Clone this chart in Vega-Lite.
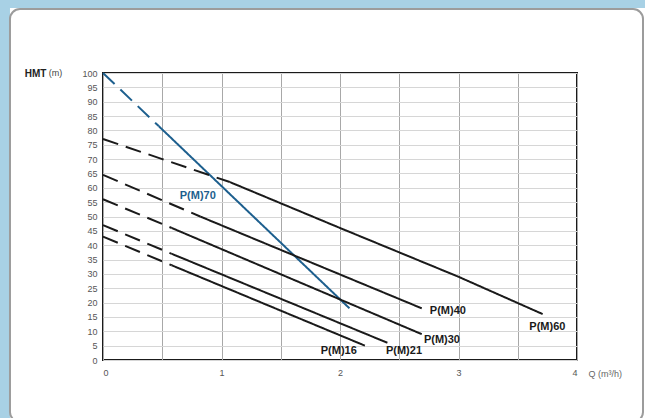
{
  "$schema": "https://vega.github.io/schema/vega-lite/v6.json",
  "width": 474,
  "height": 287,
  "autosize": {"type": "none"},
  "padding": {"left": 103, "top": 73, "right": 68, "bottom": 58},
  "background": "white",
  "config": {
    "view": {"stroke": "#1a1a1a", "strokeWidth": 2},
    "font": "Liberation Sans"
  },
  "datasets": {
    "curves": [
      {"pump": "P(M)70", "seg": "dash", "Q": 0, "H": 100},
      {"pump": "P(M)70", "seg": "dash", "Q": 0.47, "H": 81.5},
      {"pump": "P(M)70", "seg": "solid", "Q": 0.47, "H": 81.5},
      {"pump": "P(M)70", "seg": "solid", "Q": 2.08, "H": 18},
      {"pump": "P(M)60", "seg": "dash", "Q": 0, "H": 77},
      {"pump": "P(M)60", "seg": "dash", "Q": 0.5, "H": 70},
      {"pump": "P(M)60", "seg": "dash", "Q": 1.07, "H": 62},
      {"pump": "P(M)60", "seg": "solid", "Q": 1.07, "H": 62},
      {"pump": "P(M)60", "seg": "solid", "Q": 2, "H": 46},
      {"pump": "P(M)60", "seg": "solid", "Q": 3, "H": 29},
      {"pump": "P(M)60", "seg": "solid", "Q": 3.71, "H": 16},
      {"pump": "P(M)40", "seg": "dash", "Q": 0, "H": 64.5},
      {"pump": "P(M)40", "seg": "dash", "Q": 0.82, "H": 50},
      {"pump": "P(M)40", "seg": "solid", "Q": 0.82, "H": 50},
      {"pump": "P(M)40", "seg": "solid", "Q": 2.69, "H": 18},
      {"pump": "P(M)30", "seg": "dash", "Q": 0, "H": 56},
      {"pump": "P(M)30", "seg": "dash", "Q": 0.58, "H": 46},
      {"pump": "P(M)30", "seg": "solid", "Q": 0.58, "H": 46},
      {"pump": "P(M)30", "seg": "solid", "Q": 2.69, "H": 9},
      {"pump": "P(M)21", "seg": "dash", "Q": 0, "H": 47},
      {"pump": "P(M)21", "seg": "dash", "Q": 0.58, "H": 37},
      {"pump": "P(M)21", "seg": "solid", "Q": 0.58, "H": 37},
      {"pump": "P(M)21", "seg": "solid", "Q": 2.4, "H": 6},
      {"pump": "P(M)16", "seg": "dash", "Q": 0, "H": 43},
      {"pump": "P(M)16", "seg": "dash", "Q": 0.58, "H": 33},
      {"pump": "P(M)16", "seg": "solid", "Q": 0.58, "H": 33},
      {"pump": "P(M)16", "seg": "solid", "Q": 2.21, "H": 5}
    ],
    "labels": [
      {"pump": "P(M)70", "Q": 0.8, "H": 57},
      {"pump": "P(M)60", "Q": 3.75, "H": 11.5},
      {"pump": "P(M)40", "Q": 2.91, "H": 17},
      {"pump": "P(M)30", "Q": 2.86, "H": 7},
      {"pump": "P(M)21", "Q": 2.54, "H": 3},
      {"pump": "P(M)16", "Q": 1.99, "H": 3}
    ]
  },
  "layer": [
    {
      "data": {"name": "curves"},
      "mark": {"type": "line", "strokeWidth": 2, "strokeCap": "butt"},
      "encoding": {
        "x": {
          "field": "Q", "type": "quantitative",
          "scale": {"domain": [0, 4], "nice": false},
          "axis": {
            "values": [0, 0.5, 1, 1.5, 2, 2.5, 3, 3.5, 4],
            "labelExpr": "datum.value % 1 === 0 ? '' + datum.value : ''",
            "grid": true, "gridColor": "#a8a8a8", "gridWidth": 1,
            "domain": false, "ticks": false, "labelPadding": 8, "labelOverlap": false,
            "labelFontSize": 9, "labelColor": "#555555", "labelFont": "Liberation Sans",
            "title": "Q (m³/h)", "titleFontWeight": "normal", "titleFontSize": 9,
            "titleColor": "#666666", "titleAlign": "left", "titleAnchor": "start",
            "titleX": 485, "titleY": 13, "titleBaseline": "middle", "titleFont": "Liberation Sans"
          }
        },
        "y": {
          "field": "H", "type": "quantitative",
          "scale": {"domain": [0, 100], "nice": false},
          "axis": {
            "values": [0, 5, 10, 15, 20, 25, 30, 35, 40, 45, 50, 55, 60, 65, 70, 75, 80, 85, 90, 95, 100],
            "grid": true, "gridColor": "#d6d6d6", "gridWidth": 1,
            "domain": false, "ticks": false, "labelPadding": 6, "labelOverlap": false,
            "labelFontSize": 9, "labelColor": "#555555", "labelFont": "Liberation Sans",
            "labelBaseline": "middle",
            "title": "HMT", "titleAngle": 0, "titleFontWeight": "bold", "titleFontSize": 10,
            "titleColor": "#222222", "titleAlign": "center", "titleBaseline": "middle",
            "titleX": -68, "titleY": 0, "titleFont": "Liberation Sans"
          }
        },
        "color": {
          "field": "pump", "type": "nominal",
          "scale": {"domain": ["P(M)16", "P(M)21", "P(M)30", "P(M)40", "P(M)60", "P(M)70"],
                    "range": ["#1a1a1a", "#1a1a1a", "#1a1a1a", "#1a1a1a", "#1a1a1a", "#1d5f8e"]},
          "legend": null
        },
        "strokeDash": {
          "field": "seg", "type": "nominal",
          "scale": {"domain": ["dash", "solid"], "range": [[16, 8], [1, 0]]},
          "legend": null
        }
      }
    },
    {
      "data": {"name": "labels"},
      "mark": {"type": "text", "fontWeight": "bold", "fontSize": 11, "font": "Liberation Sans", "align": "center", "baseline": "middle"},
      "encoding": {
        "x": {
          "field": "Q", "type": "quantitative",
          "scale": {"domain": [0, 4], "nice": false},
          "axis": {
            "values": [0, 0.5, 1, 1.5, 2, 2.5, 3, 3.5, 4],
            "labelExpr": "datum.value % 1 === 0 ? '' + datum.value : ''",
            "grid": true, "gridColor": "#a8a8a8", "gridWidth": 1,
            "domain": false, "ticks": false, "labelPadding": 8, "labelOverlap": false,
            "labelFontSize": 9, "labelColor": "#555555", "labelFont": "Liberation Sans",
            "title": "Q (m³/h)", "titleFontWeight": "normal", "titleFontSize": 9,
            "titleColor": "#666666", "titleAlign": "left", "titleAnchor": "start",
            "titleX": 485, "titleY": 13, "titleBaseline": "middle", "titleFont": "Liberation Sans"
          }
        },
        "y": {
          "field": "H", "type": "quantitative",
          "scale": {"domain": [0, 100], "nice": false},
          "axis": {
            "values": [0, 5, 10, 15, 20, 25, 30, 35, 40, 45, 50, 55, 60, 65, 70, 75, 80, 85, 90, 95, 100],
            "grid": true, "gridColor": "#d6d6d6", "gridWidth": 1,
            "domain": false, "ticks": false, "labelPadding": 6, "labelOverlap": false,
            "labelFontSize": 9, "labelColor": "#555555", "labelFont": "Liberation Sans",
            "labelBaseline": "middle",
            "title": "HMT", "titleAngle": 0, "titleFontWeight": "bold", "titleFontSize": 10,
            "titleColor": "#222222", "titleAlign": "center", "titleBaseline": "middle",
            "titleX": -68, "titleY": 0, "titleFont": "Liberation Sans"
          }
        },
        "text": {"field": "pump"},
        "color": {"field": "pump", "type": "nominal", "legend": null}
      }
    },
    {
      "data": {"values": [{}]},
      "mark": {"type": "rect", "filled": false, "stroke": "#a8d1e5", "strokeWidth": 18},
      "encoding": {
        "x": {
          "datum": -0.861, "type": "quantitative",
          "scale": {"domain": [0, 4], "nice": false},
          "axis": {
            "values": [0, 0.5, 1, 1.5, 2, 2.5, 3, 3.5, 4],
            "labelExpr": "datum.value % 1 === 0 ? '' + datum.value : ''",
            "grid": true, "gridColor": "#a8a8a8", "gridWidth": 1,
            "domain": false, "ticks": false, "labelPadding": 8, "labelOverlap": false,
            "labelFontSize": 9, "labelColor": "#555555", "labelFont": "Liberation Sans",
            "title": "Q (m³/h)", "titleFontWeight": "normal", "titleFontSize": 9,
            "titleColor": "#666666", "titleAlign": "left", "titleAnchor": "start",
            "titleX": 485, "titleY": 13, "titleBaseline": "middle", "titleFont": "Liberation Sans"
          }
        },
        "x2": {"datum": 5.04},
        "y": {
          "datum": 125.8, "type": "quantitative",
          "scale": {"domain": [0, 100], "nice": false},
          "axis": {
            "values": [0, 5, 10, 15, 20, 25, 30, 35, 40, 45, 50, 55, 60, 65, 70, 75, 80, 85, 90, 95, 100],
            "grid": true, "gridColor": "#d6d6d6", "gridWidth": 1,
            "domain": false, "ticks": false, "labelPadding": 6, "labelOverlap": false,
            "labelFontSize": 9, "labelColor": "#555555", "labelFont": "Liberation Sans",
            "labelBaseline": "middle",
            "title": "HMT", "titleAngle": 0, "titleFontWeight": "bold", "titleFontSize": 10,
            "titleColor": "#222222", "titleAlign": "center", "titleBaseline": "middle",
            "titleX": -68, "titleY": 0, "titleFont": "Liberation Sans"
          }
        },
        "y2": {"datum": -24.4}
      }
    },
    {
      "data": {"values": [{}]},
      "mark": {"type": "rect", "filled": false, "stroke": "#9c9c9c", "strokeWidth": 2, "cornerRadius": 10},
      "encoding": {
        "x": {
          "datum": -0.785, "type": "quantitative",
          "scale": {"domain": [0, 4], "nice": false},
          "axis": {
            "values": [0, 0.5, 1, 1.5, 2, 2.5, 3, 3.5, 4],
            "labelExpr": "datum.value % 1 === 0 ? '' + datum.value : ''",
            "grid": true, "gridColor": "#a8a8a8", "gridWidth": 1,
            "domain": false, "ticks": false, "labelPadding": 8, "labelOverlap": false,
            "labelFontSize": 9, "labelColor": "#555555", "labelFont": "Liberation Sans",
            "title": "Q (m³/h)", "titleFontWeight": "normal", "titleFontSize": 9,
            "titleColor": "#666666", "titleAlign": "left", "titleAnchor": "start",
            "titleX": 485, "titleY": 13, "titleBaseline": "middle", "titleFont": "Liberation Sans"
          }
        },
        "x2": {"datum": 4.557},
        "y": {
          "datum": 122.3, "type": "quantitative",
          "scale": {"domain": [0, 100], "nice": false},
          "axis": {
            "values": [0, 5, 10, 15, 20, 25, 30, 35, 40, 45, 50, 55, 60, 65, 70, 75, 80, 85, 90, 95, 100],
            "grid": true, "gridColor": "#d6d6d6", "gridWidth": 1,
            "domain": false, "ticks": false, "labelPadding": 6, "labelOverlap": false,
            "labelFontSize": 9, "labelColor": "#555555", "labelFont": "Liberation Sans",
            "labelBaseline": "middle",
            "title": "HMT", "titleAngle": 0, "titleFontWeight": "bold", "titleFontSize": 10,
            "titleColor": "#222222", "titleAlign": "center", "titleBaseline": "middle",
            "titleX": -68, "titleY": 0, "titleFont": "Liberation Sans"
          }
        },
        "y2": {"datum": -21.6}
      }
    },
    {
      "data": {"values": [{}]},
      "mark": {"type": "text", "fontSize": 9, "font": "Liberation Sans", "color": "#444444", "align": "center", "baseline": "middle"},
      "encoding": {
        "x": {
          "datum": -0.40, "type": "quantitative",
          "scale": {"domain": [0, 4], "nice": false},
          "axis": {
            "values": [0, 0.5, 1, 1.5, 2, 2.5, 3, 3.5, 4],
            "labelExpr": "datum.value % 1 === 0 ? '' + datum.value : ''",
            "grid": true, "gridColor": "#a8a8a8", "gridWidth": 1,
            "domain": false, "ticks": false, "labelPadding": 8, "labelOverlap": false,
            "labelFontSize": 9, "labelColor": "#555555", "labelFont": "Liberation Sans",
            "title": "Q (m³/h)", "titleFontWeight": "normal", "titleFontSize": 9,
            "titleColor": "#666666", "titleAlign": "left", "titleAnchor": "start",
            "titleX": 485, "titleY": 13, "titleBaseline": "middle", "titleFont": "Liberation Sans"
          }
        },
        "y": {
          "datum": 100, "type": "quantitative",
          "scale": {"domain": [0, 100], "nice": false},
          "axis": {
            "values": [0, 5, 10, 15, 20, 25, 30, 35, 40, 45, 50, 55, 60, 65, 70, 75, 80, 85, 90, 95, 100],
            "grid": true, "gridColor": "#d6d6d6", "gridWidth": 1,
            "domain": false, "ticks": false, "labelPadding": 6, "labelOverlap": false,
            "labelFontSize": 9, "labelColor": "#555555", "labelFont": "Liberation Sans",
            "labelBaseline": "middle",
            "title": "HMT", "titleAngle": 0, "titleFontWeight": "bold", "titleFontSize": 10,
            "titleColor": "#222222", "titleAlign": "center", "titleBaseline": "middle",
            "titleX": -68, "titleY": 0, "titleFont": "Liberation Sans"
          }
        },
        "text": {"value": "(m)"}
      }
    }
  ]
}
